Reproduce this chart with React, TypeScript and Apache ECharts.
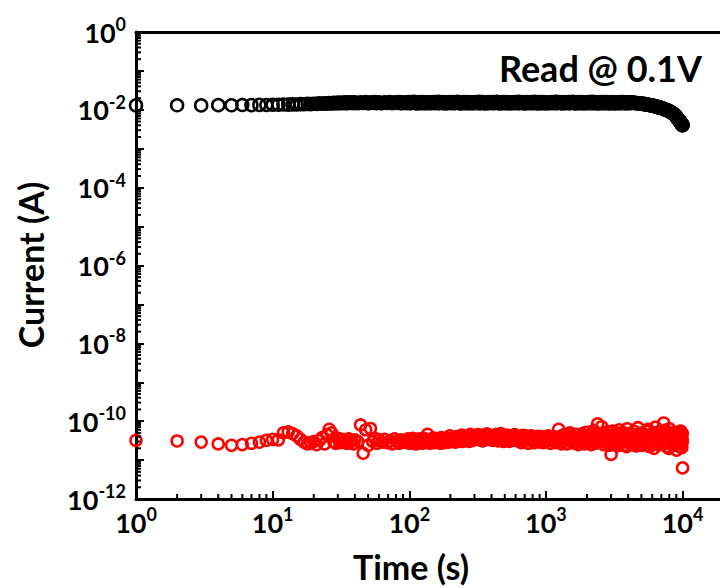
import React, { useEffect, useRef } from "react";
import * as echarts from "echarts";

// Measurement times (s), shared by both resistance states
const times = [
  1, 2, 3, 4, 5, 6, 7, 8, 9, 10,
  11, 12, 13, 14, 15, 16, 17, 18, 19, 20,
  21, 22, 23, 24, 25, 26, 27, 28, 29, 30,
  31, 32, 33, 34, 35, 36, 37, 38, 39, 40,
  42, 44, 46, 48, 50, 52, 54, 56, 58, 60,
  63, 66, 69, 72, 75, 78, 81, 84, 87, 90,
  94, 96, 98, 100, 102, 104, 106, 108, 110, 112, 114, 116, 118, 120, 122, 124, 126, 128, 130, 133,
  136, 139, 142, 145, 148, 151, 154, 157, 160, 163, 166, 169, 172, 175, 178, 181, 184, 187, 190, 194,
  198, 202, 206, 210, 214, 218, 222, 226, 230, 234, 238, 242, 246, 250, 254, 258, 262, 266, 270, 275,
  280, 285, 290, 295, 300, 305, 310, 315, 320, 325, 330, 335, 340, 345, 350, 355, 360, 365, 370, 377,
  385, 392, 400, 407, 415, 422, 430, 437, 445, 452, 460, 467, 475, 482, 490, 497, 505, 512, 520, 530,
  540, 550, 560, 570, 580, 590, 600, 610, 620, 630, 640, 650, 660, 670, 680, 690, 700, 710, 720, 732,
  745, 757, 770, 782, 795, 807, 820, 832, 845, 857, 870, 882, 895, 907, 920, 932, 945, 957, 970, 985,
  1000, 1020, 1040, 1060, 1080, 1100, 1120, 1140, 1160, 1180, 1200, 1220, 1240, 1260, 1280, 1300, 1320, 1340, 1360, 1380,
  1400, 1425, 1450, 1475, 1500, 1525, 1550, 1575, 1600, 1625, 1650, 1675, 1700, 1725, 1750, 1775, 1800, 1825, 1850, 1880,
  1910, 1940, 1970, 2000, 2030, 2060, 2090, 2120, 2150, 2180, 2210, 2240, 2270, 2300, 2330, 2360, 2390, 2420, 2450, 2485,
  2520, 2560, 2600, 2640, 2680, 2720, 2760, 2800, 2840, 2880, 2920, 2960, 3000, 3040, 3080, 3120, 3160, 3200, 3240, 3290,
  3340, 3390, 3440, 3490, 3540, 3590, 3640, 3690, 3740, 3790, 3840, 3890, 3940, 3990, 4040, 4090, 4140, 4190, 4240, 4300,
  4360, 4420, 4480, 4540, 4600, 4660, 4720, 4780, 4840, 4900, 4960, 5020, 5080, 5140, 5200, 5260, 5320, 5380, 5440, 5515,
  5590, 5665, 5740, 5815, 5890, 5965, 6040, 6115, 6190, 6265, 6340, 6415, 6490, 6565, 6640, 6715, 6790, 6865, 6940, 7020,
  7100, 7190, 7280, 7370, 7460, 7550, 7640, 7730, 7820, 7910, 8000, 8090, 8180, 8270, 8360, 8450, 8540, 8630, 8720, 8810,
  8900, 8975, 9050, 9125, 9200, 9275, 9350, 9425, 9500, 9560, 9620, 9680, 9740, 9800, 9850, 9890, 9930, 9960, 9980, 10000,
];

// Low-resistance state current (A), black circles
const lrsCurrent = [
  1.30e-2, 1.31e-2, 1.30e-2, 1.32e-2, 1.31e-2, 1.33e-2, 1.32e-2, 1.34e-2, 1.33e-2, 1.35e-2,
  1.35e-2, 1.37e-2, 1.36e-2, 1.38e-2, 1.37e-2, 1.40e-2, 1.39e-2, 1.42e-2, 1.40e-2, 1.43e-2,
  1.42e-2, 1.46e-2, 1.43e-2, 1.48e-2, 1.44e-2, 1.50e-2, 1.45e-2, 1.52e-2, 1.46e-2, 1.53e-2,
  1.47e-2, 1.54e-2, 1.48e-2, 1.56e-2, 1.47e-2, 1.55e-2, 1.50e-2, 1.57e-2, 1.48e-2, 1.56e-2,
  1.48e-2, 1.57e-2, 1.50e-2, 1.58e-2, 1.47e-2, 1.56e-2, 1.51e-2, 1.59e-2, 1.48e-2, 1.57e-2,
  1.47e-2, 1.56e-2, 1.50e-2, 1.58e-2, 1.48e-2, 1.57e-2, 1.51e-2, 1.59e-2, 1.47e-2, 1.56e-2,
  1.48e-2, 1.56e-2, 1.50e-2, 1.58e-2, 1.47e-2, 1.55e-2, 1.52e-2, 1.60e-2, 1.49e-2, 1.57e-2, 1.46e-2, 1.54e-2, 1.51e-2, 1.59e-2, 1.48e-2, 1.56e-2, 1.50e-2, 1.58e-2, 1.47e-2, 1.55e-2,
  1.49e-2, 1.57e-2, 1.47e-2, 1.55e-2, 1.51e-2, 1.59e-2, 1.48e-2, 1.56e-2, 1.50e-2, 1.60e-2, 1.47e-2, 1.55e-2, 1.52e-2, 1.58e-2, 1.49e-2, 1.57e-2, 1.46e-2, 1.56e-2, 1.50e-2, 1.58e-2,
  1.48e-2, 1.56e-2, 1.50e-2, 1.58e-2, 1.47e-2, 1.55e-2, 1.52e-2, 1.60e-2, 1.49e-2, 1.57e-2, 1.46e-2, 1.54e-2, 1.51e-2, 1.59e-2, 1.48e-2, 1.56e-2, 1.50e-2, 1.58e-2, 1.47e-2, 1.55e-2,
  1.49e-2, 1.57e-2, 1.47e-2, 1.55e-2, 1.51e-2, 1.59e-2, 1.48e-2, 1.56e-2, 1.50e-2, 1.60e-2, 1.47e-2, 1.55e-2, 1.52e-2, 1.58e-2, 1.49e-2, 1.57e-2, 1.46e-2, 1.56e-2, 1.50e-2, 1.58e-2,
  1.48e-2, 1.56e-2, 1.50e-2, 1.58e-2, 1.47e-2, 1.55e-2, 1.52e-2, 1.60e-2, 1.49e-2, 1.57e-2, 1.46e-2, 1.54e-2, 1.51e-2, 1.59e-2, 1.48e-2, 1.56e-2, 1.50e-2, 1.58e-2, 1.47e-2, 1.55e-2,
  1.49e-2, 1.57e-2, 1.47e-2, 1.55e-2, 1.51e-2, 1.59e-2, 1.48e-2, 1.56e-2, 1.50e-2, 1.60e-2, 1.47e-2, 1.55e-2, 1.52e-2, 1.58e-2, 1.49e-2, 1.57e-2, 1.46e-2, 1.56e-2, 1.50e-2, 1.58e-2,
  1.48e-2, 1.56e-2, 1.50e-2, 1.58e-2, 1.47e-2, 1.55e-2, 1.52e-2, 1.60e-2, 1.49e-2, 1.57e-2, 1.46e-2, 1.54e-2, 1.51e-2, 1.59e-2, 1.48e-2, 1.56e-2, 1.50e-2, 1.58e-2, 1.47e-2, 1.55e-2,
  1.49e-2, 1.57e-2, 1.47e-2, 1.55e-2, 1.51e-2, 1.59e-2, 1.48e-2, 1.56e-2, 1.50e-2, 1.60e-2, 1.47e-2, 1.55e-2, 1.52e-2, 1.58e-2, 1.49e-2, 1.57e-2, 1.46e-2, 1.56e-2, 1.50e-2, 1.58e-2,
  1.48e-2, 1.56e-2, 1.50e-2, 1.58e-2, 1.47e-2, 1.55e-2, 1.52e-2, 1.60e-2, 1.49e-2, 1.57e-2, 1.46e-2, 1.54e-2, 1.51e-2, 1.59e-2, 1.48e-2, 1.56e-2, 1.50e-2, 1.58e-2, 1.47e-2, 1.55e-2,
  1.49e-2, 1.57e-2, 1.47e-2, 1.55e-2, 1.51e-2, 1.59e-2, 1.48e-2, 1.56e-2, 1.50e-2, 1.60e-2, 1.47e-2, 1.55e-2, 1.52e-2, 1.58e-2, 1.49e-2, 1.57e-2, 1.46e-2, 1.56e-2, 1.50e-2, 1.58e-2,
  1.48e-2, 1.56e-2, 1.50e-2, 1.58e-2, 1.47e-2, 1.55e-2, 1.51e-2, 1.59e-2, 1.49e-2, 1.57e-2, 1.46e-2, 1.55e-2, 1.50e-2, 1.58e-2, 1.48e-2, 1.56e-2, 1.49e-2, 1.57e-2, 1.47e-2, 1.55e-2,
  1.48e-2, 1.56e-2, 1.50e-2, 1.58e-2, 1.47e-2, 1.55e-2, 1.52e-2, 1.59e-2, 1.49e-2, 1.56e-2, 1.47e-2, 1.54e-2, 1.51e-2, 1.57e-2, 1.48e-2, 1.55e-2, 1.50e-2, 1.56e-2, 1.49e-2, 1.54e-2,
  1.52e-2, 1.50e-2, 1.51e-2, 1.49e-2, 1.50e-2, 1.48e-2, 1.48e-2, 1.46e-2, 1.47e-2, 1.45e-2, 1.45e-2, 1.43e-2, 1.43e-2, 1.42e-2, 1.41e-2, 1.40e-2, 1.40e-2, 1.38e-2, 1.38e-2, 1.36e-2,
  1.35e-2, 1.34e-2, 1.33e-2, 1.31e-2, 1.30e-2, 1.29e-2, 1.28e-2, 1.26e-2, 1.25e-2, 1.24e-2, 1.23e-2, 1.21e-2, 1.20e-2, 1.18e-2, 1.17e-2, 1.15e-2, 1.14e-2, 1.13e-2, 1.12e-2, 1.11e-2,
  1.10e-2, 1.08e-2, 1.06e-2, 1.04e-2, 1.02e-2, 1.00e-2, 9.9e-3, 9.7e-3, 9.6e-3, 9.4e-3, 9.2e-3, 9.0e-3, 8.8e-3, 8.6e-3, 8.4e-3, 8.2e-3, 8.0e-3, 7.8e-3, 7.6e-3, 7.4e-3,
  7.0e-3, 6.8e-3, 6.5e-3, 6.2e-3, 6.0e-3, 5.8e-3, 5.6e-3, 5.4e-3, 5.2e-3, 5.05e-3, 4.9e-3, 4.75e-3, 4.6e-3, 4.45e-3, 4.3e-3, 4.2e-3, 4.15e-3, 4.1e-3, 4.05e-3, 4.0e-3,
];

// High-resistance state current (A), red circles
const hrsCurrent = [
  3.2e-11, 3.1e-11, 2.9e-11, 2.6e-11, 2.4e-11, 2.5e-11, 2.7e-11, 2.9e-11, 3.2e-11, 3.4e-11,
  3.3e-11, 5.0e-11, 5.3e-11, 4.8e-11, 4.2e-11, 3.4e-11, 2.9e-11, 2.6e-11, 2.8e-11, 3.0e-11,
  2.5e-11, 3.2e-11, 3.8e-11, 2.6e-11, 4.5e-11, 6.2e-11, 5.0e-11, 3.0e-11, 2.7e-11, 3.6e-11,
  2.8e-11, 3.4e-11, 2.9e-11, 3.1e-11, 2.7e-11, 3.5e-11, 2.9e-11, 3.2e-11, 2.6e-11, 3.3e-11,
  3.0e-11, 8.0e-11, 1.5e-11, 6.0e-11, 2.4e-11, 6.5e-11, 3.0e-11, 3.6e-11, 2.7e-11, 3.3e-11,
  2.9e-11, 3.4e-11, 2.8e-11, 3.1e-11, 2.6e-11, 3.5e-11, 3.0e-11, 2.7e-11, 3.3e-11, 2.9e-11,
  3.2e-11, 2.8e-11, 3.5e-11, 3.0e-11, 2.7e-11, 3.3e-11, 3.6e-11, 2.9e-11, 3.1e-11, 2.6e-11, 3.4e-11, 3.0e-11, 2.8e-11, 3.5e-11, 3.2e-11, 2.7e-11, 3.0e-11, 3.6e-11, 2.9e-11, 3.3e-11,
  4.6e-11, 3.1e-11, 2.7e-11, 3.4e-11, 3.0e-11, 3.7e-11, 2.8e-11, 3.2e-11, 3.5e-11, 2.9e-11, 3.3e-11, 2.7e-11, 3.8e-11, 3.1e-11, 3.4e-11, 2.8e-11, 3.0e-11, 3.6e-11, 3.2e-11, 2.9e-11,
  4.2e-11, 3.3e-11, 3.0e-11, 3.7e-11, 3.4e-11, 2.9e-11, 4.0e-11, 3.5e-11, 3.1e-11, 3.8e-11, 3.3e-11, 4.4e-11, 3.0e-11, 3.6e-11, 3.9e-11, 3.2e-11, 3.5e-11, 4.1e-11, 3.4e-11, 3.0e-11,
  4.6e-11, 3.5e-11, 3.2e-11, 4.0e-11, 3.7e-11, 4.3e-11, 3.4e-11, 3.9e-11, 4.5e-11, 3.6e-11, 3.3e-11, 4.1e-11, 3.8e-11, 3.1e-11, 4.4e-11, 3.6e-11, 4.0e-11, 3.4e-11, 4.7e-11, 3.7e-11,
  4.3e-11, 3.6e-11, 3.9e-11, 3.2e-11, 4.0e-11, 3.5e-11, 4.5e-11, 3.8e-11, 3.1e-11, 4.2e-11, 3.6e-11, 4.8e-11, 3.4e-11, 3.9e-11, 3.0e-11, 4.1e-11, 3.7e-11, 3.3e-11, 4.4e-11, 3.6e-11,
  3.0e-11, 3.7e-11, 4.2e-11, 3.4e-11, 3.8e-11, 4.5e-11, 3.2e-11, 3.6e-11, 4.0e-11, 3.1e-11, 3.9e-11, 3.5e-11, 2.8e-11, 3.7e-11, 4.3e-11, 3.3e-11, 3.0e-11, 3.9e-11, 4.2e-11, 3.5e-11,
  2.7e-11, 3.4e-11, 3.8e-11, 4.2e-11, 3.1e-11, 3.6e-11, 2.8e-11, 3.3e-11, 3.9e-11, 3.0e-11, 3.5e-11, 4.1e-11, 3.2e-11, 2.9e-11, 3.7e-11, 4.0e-11, 3.3e-11, 2.8e-11, 3.6e-11, 3.2e-11,
  3.0e-11, 3.8e-11, 4.2e-11, 3.3e-11, 2.7e-11, 3.6e-11, 4.0e-11, 3.1e-11, 3.5e-11, 2.8e-11, 3.9e-11, 3.4e-11, 6.2e-11, 3.0e-11, 3.7e-11, 2.6e-11, 4.3e-11, 3.5e-11, 3.1e-11, 4.6e-11,
  3.2e-11, 2.6e-11, 3.8e-11, 4.4e-11, 5.0e-11, 3.4e-11, 2.9e-11, 4.1e-11, 3.6e-11, 2.7e-11, 4.6e-11, 3.3e-11, 3.9e-11, 2.5e-11, 4.2e-11, 3.5e-11, 3.0e-11, 4.7e-11, 3.8e-11, 3.2e-11,
  2.6e-11, 4.0e-11, 5.2e-11, 3.4e-11, 2.8e-11, 3.7e-11, 4.4e-11, 3.1e-11, 2.5e-11, 4.8e-11, 3.6e-11, 5.8e-11, 3.0e-11, 2.7e-11, 4.2e-11, 3.4e-11, 8.5e-11, 3.8e-11, 4.5e-11, 3.1e-11,
  3.0e-11, 7.2e-11, 4.0e-11, 2.5e-11, 3.5e-11, 4.8e-11, 3.2e-11, 2.7e-11, 5.4e-11, 3.8e-11, 2.4e-11, 4.2e-11, 1.4e-11, 3.3e-11, 5.6e-11, 2.8e-11, 4.4e-11, 3.6e-11, 2.6e-11, 4.0e-11,
  2.3e-11, 4.6e-11, 6.0e-11, 3.2e-11, 2.7e-11, 4.0e-11, 5.2e-11, 3.6e-11, 2.4e-11, 4.4e-11, 3.0e-11, 2.2e-11, 6.4e-11, 3.8e-11, 2.9e-11, 4.8e-11, 3.4e-11, 2.6e-11, 4.5e-11, 3.1e-11,
  2.5e-11, 5.5e-11, 3.8e-11, 3.0e-11, 2.3e-11, 4.6e-11, 6.8e-11, 3.5e-11, 2.6e-11, 4.1e-11, 3.2e-11, 2.4e-11, 5.0e-11, 3.8e-11, 2.8e-11, 4.4e-11, 3.4e-11, 2.6e-11, 5.6e-11, 3.1e-11,
  6.2e-11, 3.4e-11, 2.2e-11, 4.4e-11, 3.6e-11, 2.6e-11, 3.2e-11, 5.0e-11, 2.0e-11, 4.0e-11, 7.0e-11, 3.6e-11, 2.8e-11, 4.6e-11, 2.5e-11, 5.4e-11, 3.3e-11, 2.8e-11, 4.2e-11, 3.0e-11,
  4.6e-11, 3.2e-11, 9.0e-11, 2.6e-11, 5.8e-11, 3.8e-11, 2.2e-11, 4.4e-11, 3.3e-11, 2.0e-11, 6.4e-11, 3.6e-11, 2.7e-11, 4.8e-11, 3.9e-11, 2.4e-11, 5.0e-11, 3.1e-11, 4.2e-11, 2.6e-11,
  2.6e-11, 4.2e-11, 1.8e-11, 3.6e-11, 4.8e-11, 2.8e-11, 3.5e-11, 5.2e-11, 2.2e-11, 4.0e-11, 3.1e-11, 5.6e-11, 3.9e-11, 2.6e-11, 4.4e-11, 2.1e-11, 3.4e-11, 4.9e-11, 3.0e-11, 6.3e-12,
];

// Axis structure
const xDecades = [0, 1, 2, 3, 4];
const yDecades = [-12, -11, -10, -9, -8, -7, -6, -5, -4, -3, -2, -1];
const minorMultipliers = [2, 3, 4, 5, 6, 7, 8, 9];
const X_MIN = 1;
const X_MAX = 18800; // plot frame continues past the right edge of the picture
const Y_MIN = 1e-12;
const Y_MAX = 1;

const FONT = 'Lato, "Open Sans", "DejaVu Sans", sans-serif';

export default function App() {
  const ref = useRef<HTMLDivElement>(null);

  useEffect(() => {
    if (!ref.current) return;
    const chart = echarts.init(ref.current, null, { renderer: "svg" });

    const n = Math.min(times.length, lrsCurrent.length, hrsCurrent.length);
    const black: number[][] = [];
    const red: number[][] = [];
    for (let i = 0; i < n; i++) {
      black.push([times[i], lrsCurrent[i]]);
      red.push([times[i], hrsCurrent[i]]);
    }

    const minorX: number[][] = [];
    xDecades.forEach((d) =>
      minorMultipliers.forEach((k) => {
        const v = k * Math.pow(10, d);
        if (v < X_MAX) minorX.push([v, Y_MIN]);
      })
    );
    const minorY: number[][] = [];
    yDecades.forEach((d) =>
      minorMultipliers.forEach((k) => minorY.push([X_MIN, k * Math.pow(10, d)]))
    );

    const rich = {
      b: { fontFamily: FONT, fontWeight: "bold", fontSize: 27, color: "#000", lineHeight: 34 },
      s: {
        fontFamily: FONT,
        fontWeight: "bold",
        fontSize: 18,
        color: "#000",
        verticalAlign: "top",
        lineHeight: 18,
      },
    };
    const expLabel = (v: number) => {
      const l = Math.log10(v);
      const e = Math.round(l);
      if (Math.abs(l - e) > 0.01) return null;
      return e;
    };

    chart.setOption({
      animation: false,
      backgroundColor: "#fff",
      grid: {
        left: 136,
        top: 32,
        right: 0,
        height: 467,
        show: false,
        containLabel: false,
      },
      xAxis: [
        {
          type: "log",
          logBase: 10,
          min: X_MIN,
          max: X_MAX,
          interval: 1,
          axisLine: { show: true, lineStyle: { color: "#000", width: 3 } },
          axisTick: { show: true, inside: true, length: 8, lineStyle: { color: "#000", width: 2 } },
          splitLine: { show: false },
          axisLabel: {
            margin: 6,
            showMaxLabel: false,
            formatter: (v: number) => {
              const e = expLabel(v);
              if (e === null || e > 4) return "";
              return `{b|10}{s|${e}}`;
            },
            rich,
          },
        },
        {
          type: "log",
          logBase: 10,
          min: X_MIN,
          max: X_MAX,
          position: "top",
          axisLine: { show: true, lineStyle: { color: "#000", width: 3 } },
          axisTick: { show: false },
          axisLabel: { show: false },
          splitLine: { show: false },
        },
      ],
      yAxis: {
        type: "log",
        logBase: 10,
        min: Y_MIN,
        max: Y_MAX,
        interval: 1,
        axisLine: { show: true, lineStyle: { color: "#000", width: 3 } },
        axisTick: { show: true, inside: true, length: 8, lineStyle: { color: "#000", width: 2 } },
        splitLine: { show: false },
        axisLabel: {
          margin: 10,
          formatter: (v: number) => {
            const e = expLabel(v);
            if (e === null || e % 2 !== 0) return "";
            return `{b|10}{s|${e}}`;
          },
          rich,
        },
      },
      series: [
        {
          type: "custom",
          silent: true,
          data: minorX,
          renderItem: (_p: any, api: any) => {
            const pt = api.coord([api.value(0), api.value(1)]);
            return {
              type: "line",
              shape: { x1: pt[0], y1: pt[1], x2: pt[0], y2: pt[1] - 5 },
              style: { stroke: "#000", lineWidth: 2 },
            };
          },
          z: 5,
        },
        {
          type: "custom",
          silent: true,
          data: minorY,
          renderItem: (_p: any, api: any) => {
            const pt = api.coord([api.value(0), api.value(1)]);
            return {
              type: "line",
              shape: { x1: pt[0], y1: pt[1], x2: pt[0] + 5, y2: pt[1] },
              style: { stroke: "#000", lineWidth: 2 },
            };
          },
          z: 5,
        },
        {
          name: "LRS",
          type: "scatter",
          data: black,
          symbol: "circle",
          symbolSize: 12,
          itemStyle: { color: "rgba(255,255,255,0)", borderColor: "#000", borderWidth: 2.5, opacity: 1 },
          z: 3,
        },
        {
          name: "HRS",
          type: "scatter",
          data: red,
          symbol: "circle",
          symbolSize: 11,
          itemStyle: { color: "rgba(255,255,255,0)", borderColor: "#ff0000", borderWidth: 2.5, opacity: 1 },
          z: 3,
        },
      ],
      graphic: [
        {
          type: "text",
          x: 702,
          y: 68,
          style: {
            text: "Read @ 0.1V",
            font: `bold 36px ${FONT}`,
            fill: "#000",
            align: "right",
            verticalAlign: "middle",
          },
        },
        {
          type: "text",
          x: 411,
          y: 566,
          style: {
            text: "Time (s)",
            font: `bold 34px ${FONT}`,
            fill: "#000",
            align: "center",
            verticalAlign: "middle",
          },
        },
        {
          type: "text",
          x: 30,
          y: 265,
          rotation: Math.PI / 2,
          style: {
            text: "Current (A)",
            font: `bold 34px ${FONT}`,
            fill: "#000",
            align: "center",
            verticalAlign: "middle",
          },
        },
      ],
    });

    return () => chart.dispose();
  }, []);

  return (
    <div
      ref={ref}
      style={{ position: "absolute", left: 0, top: 0, width: 720, height: 588, background: "#fff" }}
    />
  );
}
